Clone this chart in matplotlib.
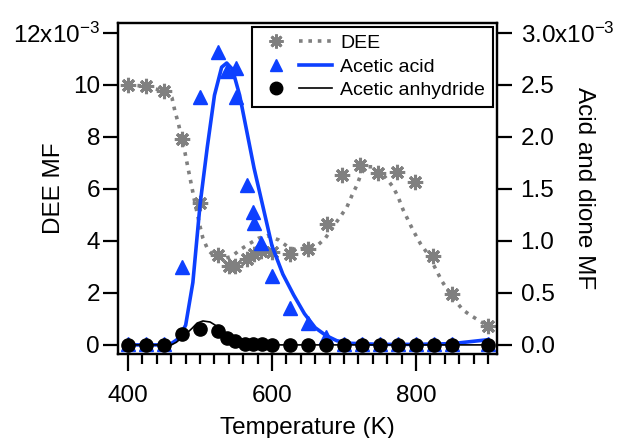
import matplotlib
matplotlib.use("Agg")
import matplotlib.pyplot as plt
from matplotlib.legend_handler import HandlerTuple
from matplotlib.lines import Line2D
from matplotlib.ticker import FixedLocator, FixedFormatter, MultipleLocator

plt.rcParams['font.family'] = ['Liberation Sans', 'DejaVu Sans']
plt.rcParams['mathtext.default'] = 'regular'

# ---- data (mole fractions in units of 1e-3) ----
dee_T = [400, 425, 450, 475, 500, 525, 540, 548, 565, 575, 585, 600, 625, 650,
         676, 697, 722, 747, 773, 798, 824, 850, 900]
dee_MF = [10.0, 9.96, 9.77, 7.9, 5.45, 3.45, 3.02, 3.02, 3.3, 3.5, 3.62, 3.58,
          3.5, 3.7, 4.65, 6.54, 6.9, 6.6, 6.65, 6.25, 3.4, 1.96, 0.72]

dee_fit_T = [400, 425, 450, 455, 461, 465, 470, 475, 479, 484, 488, 493, 500, 504,
             511, 518, 530, 544, 555, 569, 581, 593, 609, 622, 634, 648, 664, 674,
             685, 694, 704, 711, 718, 724, 731, 743, 757, 768, 775, 782, 789, 796,
             806, 815, 824, 836, 850, 865, 875, 885, 900]
dee_fit = [10.0, 9.95, 9.75, 9.7, 9.5, 9.0, 8.5, 7.9, 7.4, 6.7, 6.15, 5.45, 4.55,
           4.1, 3.65, 3.46, 3.3, 3.4, 3.65, 3.9, 4.1, 4.2, 4.04, 3.77, 3.65, 3.75,
           3.85, 4.1, 4.55, 4.9, 5.3, 5.75, 6.15, 6.6, 6.85, 6.85, 6.46, 6.08, 5.7,
           5.2, 4.8, 4.4, 3.9, 3.55, 3.1, 2.45, 1.85, 1.35, 1.15, 0.98, 0.72]

acid_T = [400, 425, 450, 475, 500, 525, 538, 550, 550, 565, 573, 575, 585, 600,
          625, 650, 675, 700, 725, 750, 775, 800, 825, 850, 900]
acid_MF = [0.01, 0.01, 0.01, 0.75, 2.38, 2.82, 2.63, 2.66, 2.38, 1.54, 1.28, 1.17,
           0.98, 0.66, 0.355, 0.21, 0.075, 0.01, 0.01, 0.01, 0.01, 0.01, 0.01,
           0.01, 0.01]

acid_fit_T = [400, 450, 460, 470, 480, 490, 500, 510, 520, 530, 537, 545, 555, 565,
              575, 585, 600, 615, 630, 645, 660, 675, 690, 710, 750, 800, 850, 900]
acid_fit = [0.0, 0.0, 0.0125, 0.06, 0.19, 0.6, 1.35, 1.9, 2.4, 2.67, 2.71, 2.65,
            2.4, 2.05, 1.7, 1.4, 0.95, 0.68, 0.48, 0.3, 0.165, 0.09, 0.04, 0.015,
            0.005, 0.005, 0.012, 0.05]

anh_T = [400, 425, 450, 475, 500, 525, 537, 549, 562, 574, 586, 600, 625, 650, 675,
         700, 725, 750, 775, 800, 825, 850, 900]
anh_MF = [0.0, 0.0, 0.0, 0.105, 0.155, 0.135, 0.068, 0.038, 0.01, 0.005, 0.005,
          0.0, 0.0, 0.0, 0.0, 0.0, 0.0, 0.0, 0.0, 0.0, 0.0, 0.0, 0.0]

anh_fit_T = [400, 460, 467, 479, 489, 496, 504, 514, 528, 542, 560, 580, 600, 900]
anh_fit = [0.0, 0.0, 0.025, 0.095, 0.16, 0.21, 0.23, 0.22, 0.16, 0.075, 0.03,
           0.005, 0.0, 0.0]

left_ticks = [0, 2, 4, 6, 8, 10, 12]
left_labels = ['0', '2', '4', '6', '8', '10', r'12x10$^{\mathregular{-3}}$']
right_ticks = [0.0, 0.5, 1.0, 1.5, 2.0, 2.5, 3.0]
right_labels = ['0.0', '0.5', '1.0', '1.5', '2.0', '2.5', r'3.0x10$^{\mathregular{-3}}$']
x_ticks = [400, 600, 800]

gray = '#808080'
blue = '#0d40ff'

fig = plt.figure(figsize=(6.19, 4.38), dpi=100)
ax = fig.add_axes([118/619, 1-354/438, (497-118)/619, (354-23)/438])
ax2 = ax.twinx()

fs = 17.5
lw_sp = 1.6

# DEE on left axis
ax.plot(dee_fit_T, dee_fit, linestyle=(0, (1, 1.6)), color=gray, lw=2.6,
        dash_capstyle='butt')
ax.plot(dee_T, dee_MF, linestyle='none', marker=(8, 2, 0), ms=11, mew=2.2,
        color=gray)

# acid and anhydride on right axis
ax2.plot(acid_fit_T, acid_fit, color=blue, lw=2.6)
ax2.plot(acid_T, acid_MF, linestyle='none', marker='^', ms=10, color=blue)
ax2.plot(anh_fit_T, anh_fit, color='black', lw=1.2)
ax2.plot(anh_T, anh_MF, linestyle='none', marker='o', ms=9.5, color='black')

ax.set_xlim(386, 912.5)
ax.set_ylim(-0.35, 12.38)
ax2.set_ylim(-0.35/4, 12.38/4)

ax.xaxis.set_major_locator(FixedLocator(x_ticks))
ax.xaxis.set_minor_locator(MultipleLocator(20))
ax.yaxis.set_major_locator(FixedLocator(left_ticks))
ax.yaxis.set_major_formatter(FixedFormatter(left_labels))
ax2.yaxis.set_major_locator(FixedLocator(right_ticks))
ax2.yaxis.set_major_formatter(FixedFormatter(right_labels))

ax.tick_params(axis='x', which='major', length=12, width=lw_sp, labelsize=fs, pad=10)
ax.tick_params(axis='x', which='minor', length=7, width=lw_sp)
ax.tick_params(axis='y', which='major', length=11, width=lw_sp, labelsize=fs, pad=2)
ax2.tick_params(axis='y', which='major', length=11, width=lw_sp, labelsize=fs, pad=6)

for a in (ax, ax2):
    for s in a.spines.values():
        s.set_linewidth(lw_sp)

ax.set_xlabel('Temperature (K)', fontsize=fs)
ax.xaxis.set_label_coords(0.5, -0.19)
ax.set_ylabel('DEE MF', fontsize=fs)
ax.yaxis.set_label_coords(-0.14, 0.5)
ax2.set_ylabel('Acid and dione MF', fontsize=fs, rotation=270, va='center')
ax2.yaxis.set_label_coords(1.23, 0.5)

h_dee = (Line2D([], [], linestyle='none', marker=(8, 2, 0), ms=10, mew=2.0, color=gray),
         Line2D([], [], linestyle=(0, (1, 1.6)), color=gray, lw=2.6))
h_acid = (Line2D([], [], linestyle='none', marker='^', ms=9, color=blue),
          Line2D([], [], color=blue, lw=2.6))
h_anh = (Line2D([], [], linestyle='none', marker='o', ms=9, color='black'),
         Line2D([], [], color='black', lw=1.2))
leg = ax2.legend([h_dee, h_acid, h_anh], ['DEE', 'Acetic acid', 'Acetic anhydride'],
                 handler_map={tuple: HandlerTuple(ndivide=None, pad=0.3)},
                 loc='upper right', bbox_to_anchor=(1.0, 1.0), borderaxespad=0.2,
                 fontsize=14, handlelength=3.7, handletextpad=0.45,
                 labelspacing=0.29, borderpad=0.4, fancybox=False, framealpha=1,
                 edgecolor='black')
leg.get_frame().set_linewidth(1.5)

fig.savefig('out.png', dpi=100)
